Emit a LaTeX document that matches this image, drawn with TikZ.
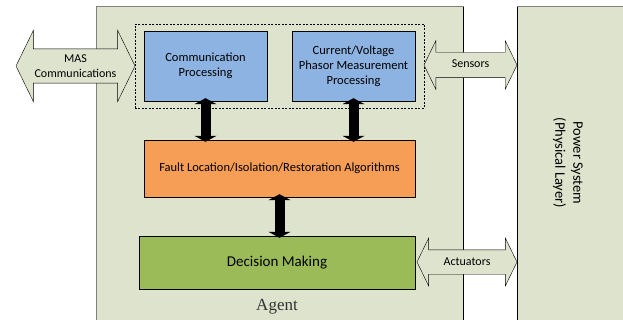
\documentclass[tikz,border=0pt]{standalone}
\usepackage{fontspec}
\setmainfont{Carlito}
\newfontfamily\agentfont{Liberation Serif}
\usetikzlibrary{shapes.arrows,arrows.meta,fit}

\definecolor{agentbg}{RGB}{221,227,205}
\definecolor{procblue}{RGB}{141,179,226}
\definecolor{algoorange}{RGB}{246,157,86}
\definecolor{decgreen}{RGB}{155,187,89}

\begin{document}
\begin{tikzpicture}[x=1pt,y=-1pt]
% Styles
\tikzstyle{block}=[draw, align=center, font=\fontsize{12.5}{15}\selectfont]
\tikzstyle{link}=[draw, fill=agentbg, double arrow, double arrow tip angle=128,
  inner xsep=0pt, align=center, font=\fontsize{12}{15}\selectfont]
\tikzstyle{bigarrow}=[line width=10pt,
  {Triangle[width=22pt,length=6pt]}-{Triangle[width=22pt,length=6pt]}]
\useasboundingbox (0,0) rectangle (623,320);
% the two big frames
\draw[black!50, line width=1pt, fill=agentbg] (96,7) rectangle (463,330);
\draw[black!50, line width=1pt, fill=agentbg] (517,7) rectangle (640,330);
\draw[line width=1pt] (463,7.5) -- (463,330) (517,7.5) -- (517,330);
\node[font=\fontsize{14.5}{18}\selectfont, rotate=-90, align=center]
  (power) at (568,163) {Power System\\(Physical Layer)};
\node[font=\agentfont\fontsize{17}{20}\selectfont, text=black!80]
  (agent) at (277,307) {Agent};
% the processing blocks
\node[block, fill=procblue, minimum width=123pt, minimum height=70pt]
  (comm) at (205.5,66) {Communication\\Processing};
\node[block, fill=procblue, minimum width=123pt, minimum height=70pt]
  (meas) at (353.5,66) {Current/Voltage\\Phasor Measurement\\Processing};
\node[draw, dash pattern=on 2pt off 1.5pt, fit=(comm)(meas),
  inner xsep=9pt, inner ysep=7pt] (sense) {};
\node[block, fill=algoorange, minimum width=271pt, minimum height=57pt]
  (fault) at (279.5,168.5) {Fault Location/Isolation/Restoration Algorithms};
\node[block, fill=decgreen, minimum width=276pt, minimum height=53pt,
  font=\fontsize{15}{18}\selectfont]
  (decision) at (277,262.5) {Decision Making};
% links to the outside
\node[link, minimum height=119pt, double arrow head extend=18.5pt, inner ysep=5.5pt]
  (mas) at (75.5,66) {MAS\\Communications};
\node[link, minimum height=93pt, double arrow head extend=11.5pt,
  text height=9pt, text depth=3pt, inner ysep=6.5pt]
  (sensors) at (470.5,65) {Sensors};
\node[link, minimum height=100pt, double arrow head extend=11.5pt,
  text height=9pt, text depth=3pt, inner ysep=6pt]
  (actuators) at (467,262) {Actuators};
% internal data flow
\foreach \a/\b in {comm/fault, meas/fault, fault/decision}
  \draw[bigarrow, shorten <=-3pt, shorten >=-2pt] (\a.south) -- (\a.south |- \b.north);
\end{tikzpicture}
\end{document}
